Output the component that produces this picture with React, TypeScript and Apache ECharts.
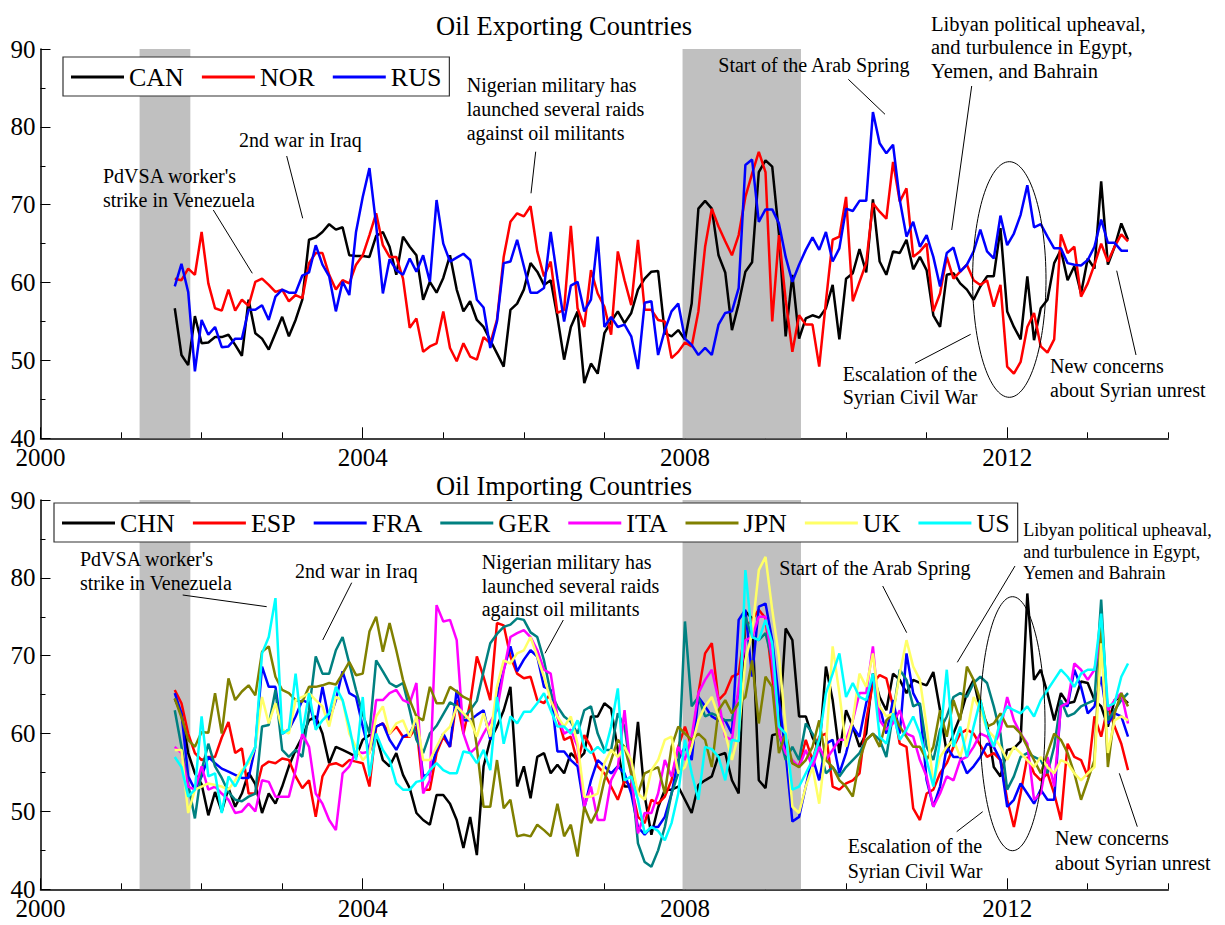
import React, { useEffect, useRef } from "react";
import * as echarts from "echarts";

// ---------- DATA ----------
// Monthly observations, Sep 2001 .. Jul 2013 (143 months)
const START_YEAR = 2001;
const START_MONTH = 9;

const CAN = [
  56.7,50.7,49.4,55.7,52.2,52.3,53.0,53.0,53.3,52.0,
  50.6,57.8,53.5,52.8,51.4,53.5,55.6,53.1,55.2,57.8,
  65.5,65.8,66.5,67.5,66.8,67.1,63.5,63.4,63.4,63.3,
  66.0,66.5,64.6,61.0,65.9,64.6,63.5,57.8,60.1,58.7,
  60.6,63.5,59.1,56.3,57.6,55.2,54.3,52.6,50.9,49.2,
  56.5,57.3,59.1,62.5,61.4,59.7,60.3,55.6,50.1,54.3,
  56.3,47.1,49.6,48.3,53.5,55.0,56.3,54.8,56.1,59.1,
  60.5,61.4,61.5,53.5,53.1,53.9,52.7,57.3,69.5,70.5,
  69.5,63.5,61.3,53.9,57.3,61.4,62.6,74.2,75.7,74.9,
  66.3,53.1,61.0,52.8,55.4,55.8,55.5,56.7,59.7,52.7,
  60.5,61.2,64.3,61.3,70.7,62.7,61.0,64.0,63.8,65.5,
  61.7,63.3,61.6,55.8,54.3,61.0,61.2,59.9,59.1,57.8,
  59.5,60.8,60.8,67.0,56.3,54.3,52.7,60.8,52.6,56.7,
  57.8,62.5,64.2,60.3,62.1,58.6,63.1,61.8,73.0,62.3,
  64.6,67.6,65.5,
];
const NOR = [
  60.5,60.3,61.8,61.0,66.5,59.9,56.7,56.4,59.1,56.4,
  57.8,57.0,60.1,60.5,59.7,58.8,59.1,57.6,58.4,58.0,
  62.5,63.8,63.8,61.0,59.1,60.3,59.9,62.3,63.5,66.1,
  68.9,64.8,63.3,63.3,60.5,54.2,55.4,51.1,51.8,52.2,
  56.3,51.6,49.9,52.2,50.5,50.1,53.0,52.2,55.2,63.3,
  67.8,68.9,68.5,69.8,64.0,60.8,62.7,56.1,56.5,67.3,
  56.7,54.3,61.6,58.6,56.9,53.3,64.0,60.3,57.1,65.5,
  56.5,56.5,55.2,55.0,50.3,51.1,52.3,51.8,56.3,64.6,
  69.5,67.2,65.3,63.5,66.1,71.0,74.0,76.8,74.2,55.0,
  66.1,57.8,51.1,55.8,54.6,54.6,49.2,57.6,65.5,65.9,
  71.0,57.6,60.1,62.5,70.2,69.1,68.2,75.5,70.4,72.1,
  63.3,64.0,65.0,56.3,58.6,63.3,60.5,61.4,62.3,60.3,
  59.7,60.3,56.9,59.7,49.2,48.3,49.8,54.3,56.1,51.8,
  51.0,52.7,66.2,63.8,64.6,58.2,59.9,62.3,65.0,62.7,
  64.6,66.2,65.3,
];
const RUS = [
  59.5,62.4,58.8,48.6,55.2,53.3,54.3,51.7,51.8,52.8,
  52.8,56.5,56.5,57.1,55.2,58.2,59.1,58.7,58.7,60.9,
  61.3,64.8,62.3,60.8,56.3,60.1,58.4,66.5,71.0,74.7,
  67.4,58.6,63.0,61.6,61.0,63.1,61.4,63.5,60.1,70.6,
  65.0,62.7,63.2,63.7,62.9,57.8,56.8,51.6,55.0,62.5,
  62.7,65.5,62.1,58.7,58.7,59.3,66.5,60.5,55.0,59.6,
  60.1,56.3,57.8,65.9,54.3,55.6,54.3,54.6,53.1,48.9,
  57.4,57.6,50.7,53.9,56.3,57.3,52.8,52.0,50.7,51.6,
  50.7,54.6,56.1,56.3,59.3,75.1,75.8,67.8,69.4,69.4,
  67.6,63.3,60.1,62.3,64.2,65.8,64.2,66.5,62.7,64.4,
  69.5,69.2,70.5,70.5,81.9,77.9,76.6,77.7,70.6,65.9,
  67.8,64.6,66.1,63.3,59.5,63.8,64.5,61.4,62.3,64.0,
  66.8,64.0,63.1,68.6,64.8,66.3,68.7,72.5,67.1,67.5,
  65.9,64.4,64.4,62.5,62.3,62.2,62.9,64.6,68.1,65.1,
  65.1,64.1,64.1,
];

const CHN = [
  64.5,62.5,57.5,54.9,53.5,49.5,52.5,50.0,53.0,50.6,
  52.3,55.0,53.5,49.8,52.3,51.0,53.2,55.8,57.9,59.6,
  61.7,62.2,60.0,56.2,58.3,57.9,57.5,57.0,59.2,59.8,
  59.8,56.6,55.8,57.5,54.7,53.0,49.8,48.9,48.3,52.1,
  52.1,51.0,48.9,45.3,49.3,44.4,55.8,59.2,60.9,63.0,
  66.0,53.2,55.8,51.7,57.0,57.5,54.9,56.0,54.9,57.5,
  56.6,57.5,62.2,62.2,63.9,63.2,57.9,53.2,53.2,61.5,
  52.0,47.0,50.5,52.8,52.8,53.2,51.5,49.8,53.4,54.0,
  54.5,57.2,57.5,54.0,52.3,75.7,74.8,54.0,53.0,59.8,
  60.0,73.5,72.0,62.2,62.2,59.5,57.9,68.6,64.3,57.5,
  63.0,60.9,58.3,60.0,67.7,64.7,63.0,67.7,66.9,65.2,
  66.9,66.5,66.2,67.9,63.0,57.5,60.0,62.2,65.2,66.9,
  63.0,61.3,55.7,54.5,57.9,58.1,59.0,78.0,66.9,68.2,
  65.2,61.7,65.2,63.9,64.1,66.7,66.5,64.3,63.5,60.9,
  64.3,64.7,63.9,
];
const ESP = [
  65.6,63.9,60.0,57.5,56.6,57.0,57.0,59.5,61.5,57.5,
  58.1,52.3,52.3,55.8,56.4,56.2,56.8,56.6,54.5,53.0,
  54.0,49.3,54.5,56.0,56.2,55.8,56.6,56.4,56.2,53.2,
  60.9,61.3,60.0,60.9,59.6,59.6,60.9,52.8,52.8,57.5,
  59.6,58.3,64.3,60.0,63.9,69.9,67.3,64.3,74.2,73.9,
  69.9,67.7,67.1,67.3,64.3,63.9,65.2,62.2,59.2,59.6,
  56.2,59.8,58.3,55.8,54.9,53.2,51.5,54.0,53.2,49.3,
  48.5,51.5,51.0,51.9,54.0,58.3,60.9,58.3,65.2,70.3,
  71.6,64.3,65.2,67.3,67.7,73.7,74.6,75.9,74.8,67.3,
  60.0,57.9,56.2,55.8,59.2,56.6,59.6,60.0,53.2,52.8,
  53.6,54.0,54.9,61.7,66.5,67.5,67.1,63.5,58.7,58.3,
  50.4,48.9,52.3,52.8,54.9,56.2,58.3,60.0,60.5,60.0,
  58.5,57.0,57.5,56.6,51.5,48.0,52.3,57.0,54.9,54.0,
  54.9,52.3,48.9,58.7,57.0,56.6,54.5,62.2,59.6,63.5,
  60.9,58.7,55.3,
];
const FRA = [
  65.2,62.6,54.5,52.8,54.5,57.0,56.2,55.5,55.1,54.7,
  54.3,54.3,58.3,68.6,66.0,66.0,60.0,60.5,62.2,64.3,
  63.9,60.9,66.0,61.7,64.3,68.0,65.2,64.7,60.9,57.5,
  60.9,61.3,59.2,57.9,59.6,60.0,61.7,54.5,54.9,57.9,
  60.0,58.3,65.6,61.7,61.7,62.4,63.0,59.2,64.7,68.2,
  71.2,68.0,69.5,70.7,69.9,66.0,65.6,57.7,57.7,56.6,
  55.8,50.4,54.0,56.6,55.8,54.9,55.8,54.9,52.3,48.0,
  47.0,48.0,48.0,49.3,52.3,56.6,58.3,56.6,64.7,63.5,
  62.2,61.7,61.7,60.0,74.6,75.9,67.3,76.3,76.7,72.0,
  64.3,57.5,48.7,49.3,53.2,57.0,54.0,58.7,59.2,54.9,
  57.5,60.9,59.6,63.9,67.3,63.5,60.0,64.3,60.0,70.3,
  65.2,63.5,54.0,50.6,53.2,58.3,57.0,57.0,54.9,55.8,
  57.0,58.7,58.3,56.6,50.6,51.5,53.6,52.3,51.0,52.8,
  51.5,51.5,63.9,63.5,68.2,66.0,62.6,63.5,67.3,61.3,
  62.6,62.2,59.6,
];
const GER = [
  63.0,58.3,53.5,49.1,55.3,58.7,55.8,54.3,52.5,51.5,
  51.3,51.9,52.3,60.9,61.1,65.6,57.9,57.0,57.9,57.0,
  63.0,69.9,67.7,67.7,70.7,72.4,69.0,65.6,62.5,60.0,
  69.4,68.0,66.5,66.0,66.5,63.0,59.2,57.5,60.0,61.0,
  62.5,64.0,63.5,62.0,63.0,64.2,68.0,71.6,72.8,73.7,
  74.0,74.8,74.6,73.0,72.4,69.4,65.2,63.5,62.2,61.5,
  60.0,63.0,63.5,60.0,57.9,57.9,62.6,60.9,54.9,45.9,
  43.5,42.9,45.0,48.0,52.3,54.9,74.4,63.5,64.7,62.2,
  62.6,62.2,61.7,61.7,65.2,75.0,72.4,72.0,72.9,69.4,
  60.0,56.6,58.3,56.6,61.3,60.0,58.3,54.9,55.7,54.5,
  55.7,56.6,57.5,59.2,60.0,59.2,57.0,62.6,68.2,66.9,
  63.5,63.9,58.3,56.6,60.5,62.2,64.7,65.2,64.7,66.5,
  67.3,66.5,63.5,60.0,52.8,54.5,57.0,57.5,57.0,56.6,
  54.9,58.3,64.3,62.2,62.6,63.5,63.9,64.3,77.2,61.7,
  63.0,64.3,65.2,
];
const ITA = [
  58.3,57.5,53.2,52.8,55.8,52.8,53.2,52.3,51.5,49.8,
  50.0,51.0,50.0,54.0,53.8,51.9,51.9,51.9,55.3,60.0,
  58.3,52.3,51.0,48.9,47.6,54.9,55.8,57.7,57.5,57.7,
  64.3,64.3,65.2,65.6,64.3,63.9,66.5,52.3,54.0,76.5,
  74.4,74.6,72.0,60.0,57.5,58.3,60.0,61.5,63.0,68.0,
  72.4,72.9,73.3,72.4,70.7,68.2,67.7,62.2,60.0,60.5,
  58.3,50.6,53.2,48.9,48.9,54.0,55.7,63.0,54.5,47.2,
  49.8,49.8,52.3,56.6,54.5,58.3,56.6,59.6,65.2,66.9,
  68.2,64.3,59.6,59.2,66.0,72.0,72.4,75.0,75.0,69.4,
  60.0,57.5,56.6,55.7,57.9,55.7,58.3,56.6,57.9,59.2,
  59.2,61.7,65.2,65.2,71.2,61.7,60.5,61.3,63.0,60.0,
  59.6,56.6,54.5,50.6,52.3,54.5,54.0,56.6,57.0,58.3,
  60.0,59.6,58.3,60.5,64.7,61.7,60.0,58.7,51.5,52.3,
  57.0,53.2,63.5,63.9,69.0,68.2,66.9,68.2,72.9,63.0,
  64.3,65.2,61.3,
];
const JPN = [
  64.5,62.1,59.2,58.3,60.2,60.1,65.2,60.0,67.1,64.3,
  65.4,66.2,64.9,70.5,71.2,67.3,65.6,65.2,64.3,64.1,
  66.0,66.0,66.2,66.5,66.3,67.7,69.2,67.5,67.7,73.1,
  75.0,70.5,74.2,70.7,66.9,64.3,62.2,61.7,66.0,63.9,
  63.9,66.0,65.4,64.7,64.3,58.3,50.6,50.6,56.6,50.4,
  51.5,46.8,47.0,46.8,48.3,47.6,46.8,51.0,46.8,48.3,
  44.2,50.6,48.5,50.2,54.0,56.6,59.2,58.3,54.9,52.3,
  54.9,55.3,55.7,52.3,58.3,60.9,60.0,59.2,60.0,59.2,
  55.7,63.0,64.3,62.6,63.9,64.7,69.4,61.3,67.3,66.0,
  57.5,60.0,56.2,55.7,56.6,58.3,61.7,56.6,55.7,54.0,
  53.2,51.9,56.6,59.2,60.0,58.3,61.7,62.6,60.9,59.6,
  58.3,58.3,56.6,58.3,63.0,59.6,64.3,61.7,68.6,66.9,
  64.3,60.9,61.3,62.6,60.9,60.9,60.0,58.3,56.6,54.9,
  57.5,60.0,59.2,57.5,54.9,51.5,54.0,56.6,73.7,55.7,
  62.6,65.2,63.5,
];
const UK = [
  57.9,57.9,49.8,52.8,53.2,53.6,53.4,53.2,52.8,54.0,
  55.3,56.2,58.3,64.7,61.3,63.9,60.5,60.0,64.3,64.7,
  65.2,64.3,63.5,60.9,64.7,64.3,60.0,58.3,56.6,57.5,
  62.2,63.5,60.0,61.3,61.7,59.6,62.2,56.6,56.6,58.3,
  60.0,60.9,63.5,62.6,61.7,59.6,62.6,59.6,66.0,69.4,
  69.0,70.3,70.7,72.4,69.9,67.3,64.3,62.2,60.9,62.2,
  58.7,51.9,51.9,52.3,56.2,57.9,57.0,58.3,56.6,52.3,
  51.5,55.3,56.6,59.2,59.6,54.9,55.7,58.3,61.7,63.5,
  64.7,62.2,60.0,56.6,60.0,69.4,72.9,81.0,82.7,75.9,
  69.9,60.9,50.6,49.8,53.2,55.7,51.0,58.3,71.2,65.2,
  58.3,61.7,67.7,66.0,70.3,63.5,62.2,62.6,67.7,72.0,
  68.6,66.9,60.9,53.6,57.0,58.3,59.2,57.0,60.0,64.7,
  63.0,60.5,59.6,58.3,56.6,58.3,57.5,56.6,55.7,57.0,
  55.7,54.9,56.6,56.2,54.9,54.0,54.9,55.7,71.6,57.5,
  61.7,62.2,61.7,
];
const US = [
  57.0,55.7,51.9,52.8,62.2,54.5,54.9,49.8,54.5,53.2,
  54.9,56.6,58.3,70.3,72.4,77.4,60.0,60.5,67.7,60.0,
  65.2,60.5,61.7,62.6,66.0,64.3,60.9,56.6,64.7,54.5,
  60.0,57.9,56.6,53.6,52.8,52.8,53.8,54.0,55.3,56.2,
  55.3,54.9,54.9,57.7,57.5,56.2,57.9,55.3,64.7,58.7,
  62.2,61.3,62.8,62.8,63.9,65.2,63.0,60.9,60.9,60.0,
  61.7,58.3,57.5,58.3,57.5,60.9,65.8,54.0,54.5,51.5,
  47.2,48.0,47.5,46.3,48.5,52.3,59.2,54.9,51.5,58.3,
  58.0,57.0,54.0,59.2,59.0,81.0,72.4,72.0,74.6,71.6,
  60.9,60.0,52.8,53.2,54.9,56.6,59.2,65.2,67.7,70.3,
  64.7,66.5,64.7,64.3,67.7,59.6,58.7,62.6,59.2,60.5,
  62.2,60.0,56.6,53.2,59.2,68.2,58.3,60.9,57.0,60.9,
  64.3,60.5,58.3,61.7,63.5,63.0,62.6,63.5,62.2,64.3,
  65.6,66.9,68.2,67.3,66.0,67.7,68.2,68.2,75.4,63.5,
  63.9,67.3,69.0,
];

// Shaded periods (fractional years)
const SHADED = [
  [2001.23, 2001.86],
  [2007.97, 2009.44],
];
const YEAR_LABELS = [2000, 2004, 2008, 2012];
const YEAR_TICKS = [2001, 2002, 2003, 2005, 2006, 2007, 2009, 2010, 2011, 2013, 2014];

const EXPORTERS = [
  { name: "CAN", data: CAN, color: "#000000" },
  { name: "NOR", data: NOR, color: "#ff0000" },
  { name: "RUS", data: RUS, color: "#0000ff" },
];
const IMPORTERS = [
  { name: "CHN", data: CHN, color: "#000000" },
  { name: "ESP", data: ESP, color: "#ff0000" },
  { name: "FRA", data: FRA, color: "#0000ff" },
  { name: "GER", data: GER, color: "#008080" },
  { name: "ITA", data: ITA, color: "#ff00ff" },
  { name: "JPN", data: JPN, color: "#808000" },
  { name: "UK", data: UK, color: "#ffff66" },
  { name: "US", data: US, color: "#00ffff" },
];

// ---------- CHART ----------
const FONT = "Liberation Serif";

function monthX(i: number) {
  return START_YEAR + (START_MONTH - 1 + i) / 12;
}

function xAxesFor(gridIndex: number) {
  const base = {
    type: "value",
    gridIndex,
    min: 2000,
    max: 2014,
    position: "bottom",
    splitLine: { show: false },
  };
  return [
    {
      ...base,
      interval: 1,
      axisLine: { show: true, onZero: false, lineStyle: { color: "#000", width: 1.5 } },
      axisTick: { show: true, inside: true, length: 6, lineStyle: { color: "#000", width: 1 }, customValues: YEAR_TICKS },
      axisLabel: { show: false },
    },
    {
      ...base,
      interval: 4,
      axisLine: { show: false, onZero: false },
      axisTick: { show: true, inside: true, length: 11, lineStyle: { color: "#000", width: 1 }, customValues: YEAR_LABELS },
      axisLabel: {
        show: true,
        margin: 7,
        color: "#000",
        fontFamily: FONT,
        fontSize: 25,
        customValues: YEAR_LABELS,
        formatter: (v: number) => (v % 4 === 0 ? String(v) : ""),
      },
    },
  ];
}

function yAxisFor(gridIndex: number) {
  return {
    type: "value",
    gridIndex,
    min: 40,
    max: 90,
    interval: 10,
    splitLine: { show: false },
    axisLine: { show: true, lineStyle: { color: "#000", width: 1.5 } },
    axisTick: { show: true, inside: true, length: 10, lineStyle: { color: "#000", width: 1 } },
    minorTick: { show: true, splitNumber: 2, length: 5, lineStyle: { color: "#000", width: 1 } },
    axisLabel: { margin: 5, color: "#000", fontFamily: FONT, fontSize: 25 },
  };
}

function seriesFor(list: { name: string; data: number[]; color: string }[], xIdx: number, yIdx: number) {
  return list.map((s, k) => ({
    type: "line",
    name: s.name,
    xAxisIndex: xIdx,
    yAxisIndex: yIdx,
    data: s.data.map((v, i) => [monthX(i), v]),
    showSymbol: false,
    symbol: "none",
    color: s.color,
    itemStyle: { color: s.color },
    lineStyle: { color: s.color, width: 2.5 },
    emphasis: { disabled: true },
    z: 3,
    markArea:
      k === 0
        ? {
            silent: true,
            itemStyle: { color: "#c0c0c0" },
            data: SHADED.map(([a, b]) => [{ xAxis: a }, { xAxis: b }]),
          }
        : undefined,
  }));
}

function txt(text: string, x: number, y: number, size = 20, lh = 24) {
  return {
    type: "text",
    x,
    y,
    z: 100,
    style: {
      text,
      fill: "#000",
      fontFamily: FONT,
      fontSize: size,
      lineHeight: lh,
      verticalAlign: "top",
      align: "left",
    },
  };
}
function seg(x1: number, y1: number, x2: number, y2: number) {
  return {
    type: "line",
    z: 100,
    shape: { x1, y1, x2, y2 },
    style: { stroke: "#000", lineWidth: 1 },
  };
}
function oval(cx: number, cy: number, rx: number, ry: number) {
  return {
    type: "ellipse",
    z: 100,
    shape: { cx, cy, rx, ry },
    style: { fill: "none", stroke: "#000", lineWidth: 1 },
  };
}

const legendBase = {
  orient: "horizontal",
  icon: "rect",
  itemWidth: 53,
  itemHeight: 3,
  itemGap: 18,
  selectedMode: false,
  backgroundColor: "#ffffff",
  borderColor: "#333",
  borderWidth: 1.2,
  borderRadius: 0,
  padding: [7, 8, 6, 8],
  textStyle: { color: "#000", fontFamily: FONT, fontSize: 26 },
  z: 50,
};

export default function App() {
  const ref = useRef<HTMLDivElement>(null);
  useEffect(() => {
    if (!ref.current) return;
    const chart = echarts.init(ref.current, undefined, { renderer: "svg" });
    const option = {
      animation: false,
      backgroundColor: "#ffffff",
      title: [
        {
          text: "Oil Exporting Countries",
          left: 436,
          top: 12,
          padding: 0,
          textStyle: { fontFamily: FONT, fontSize: 26.5, fontWeight: "normal", color: "#000" },
        },
        {
          text: "Oil Importing Countries",
          left: 436,
          top: 472,
          padding: 0,
          textStyle: { fontFamily: FONT, fontSize: 26.5, fontWeight: "normal", color: "#000" },
        },
      ],
      legend: [
        { ...legendBase, left: 63, top: 57, data: EXPORTERS.map((s) => s.name) },
        { ...legendBase, left: 54, top: 503, data: IMPORTERS.map((s) => s.name) },
      ],
      grid: [
        { left: 40.5, right: 56.7, top: 49, bottom: 486.7, containLabel: false },
        { left: 40.5, right: 56.7, top: 500, bottom: 35.7, containLabel: false },
      ],
      xAxis: [...xAxesFor(0), ...xAxesFor(1)],
      yAxis: [yAxisFor(0), yAxisFor(1)],
      series: [...seriesFor(EXPORTERS, 0, 0), ...seriesFor(IMPORTERS, 2, 1)],
      graphic: [
        // top panel annotations
        txt("PdVSA worker's\nstrike in Venezuela", 103, 164),
        seg(213.3, 210, 252.3, 273.3),
        txt("2nd war in Iraq", 239, 128),
        seg(286.7, 156, 302.7, 218.3),
        txt("Nigerian military has\nlaunched several raids\nagainst oil militants", 466.7, 73, 20, 23.8),
        seg(535.7, 151.7, 531, 193.3),
        txt("Start of the Arab Spring", 718.3, 53),
        seg(848.3, 79.3, 885, 114.3),
        txt("Libyan political upheaval,\nand turbulence in Egypt,\nYemen, and Bahrain", 931, 12, 20.5, 23.5),
        seg(971.7, 86, 951.7, 230),
        oval(1009.3, 279.5, 36.7, 117.8),
        txt("Escalation of the\nSyrian Civil War", 842.7, 362.3, 20, 23.3),
        seg(915, 363.3, 970.7, 334.3),
        txt("New concerns\nabout Syrian unrest", 1050, 354.6, 20, 23.4),
        seg(1136, 355, 1116.7, 270.7),
        // bottom panel annotations
        txt("PdVSA worker's\nstrike in Venezuela", 80, 547.3),
        seg(182.7, 595, 266.7, 606.7),
        txt("2nd war in Iraq", 295, 558.6),
        seg(351.7, 582.7, 322.7, 640),
        txt("Nigerian military has\nlaunched several raids\nagainst oil militants", 481.7, 550.3, 20, 23.5),
        seg(563.3, 620, 545, 653.3),
        txt("Start of the Arab Spring", 779.3, 556.3),
        seg(882.7, 586, 906.7, 632.7),
        txt("Libyan political upheaval,\nand turbulence in Egypt,\nYemen and Bahrain", 1023.3, 519, 18, 21.7),
        seg(1015, 566, 957.3, 662.3),
        oval(1012.5, 723.7, 32.5, 127),
        txt("Escalation of the\nSyrian Civil War", 847.7, 833, 20, 25),
        seg(956.7, 831.7, 982.7, 811.7),
        txt("New concerns\nabout Syrian unrest", 1055, 826.3, 20, 24.3),
        seg(1137.3, 826.7, 1119.3, 773.3),
      ],
    };
    chart.setOption(option as any);
    return () => {
      chart.dispose();
    };
  }, []);
  return (
    <div
      ref={ref}
      style={{ position: "fixed", left: 0, top: 0, width: 1225, height: 925, background: "#fff" }}
    />
  );
}
